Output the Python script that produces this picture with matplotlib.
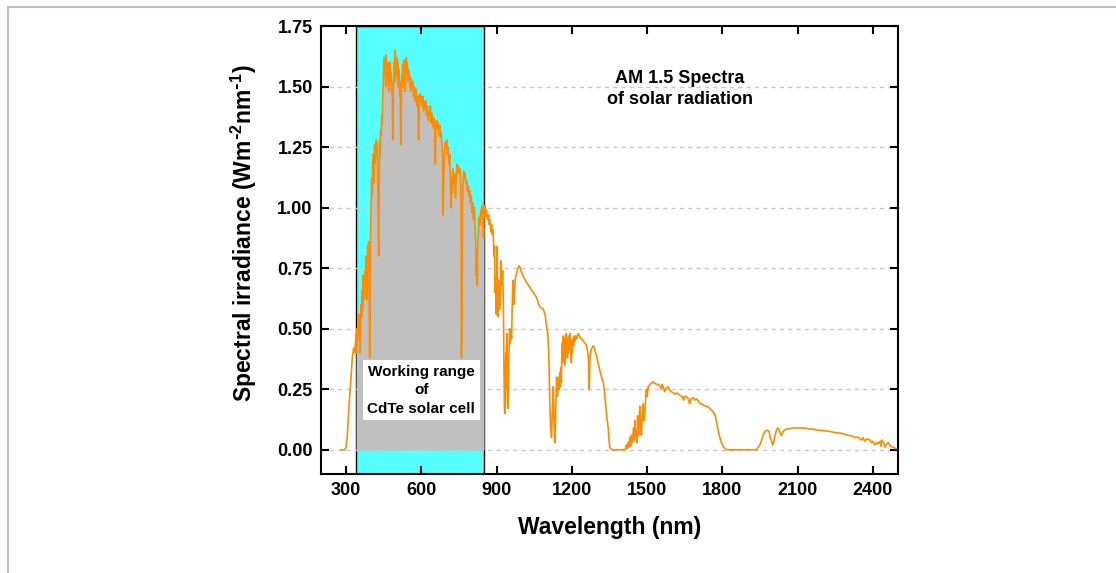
import matplotlib
matplotlib.use('Agg')
from matplotlib import pyplot as plt
from matplotlib.patches import Rectangle
import numpy as np

plt.rcParams['font.family'] = ['Liberation Sans', 'DejaVu Sans']
plt.rcParams['font.weight'] = 'bold'
plt.rcParams['mathtext.default'] = 'regular'

# AM1.5 spectrum (nm, W m-2 nm-1), in pieces
uv_wl = [280, 290, 295, 300, 305, 310, 315, 320, 325, 330, 335, 338]
uv_irr = [0, 0, 0.0, 0.01, 0.06, 0.15, 0.23, 0.30, 0.38, 0.42, 0.40, 0.45]

vis_wl = [340, 342, 344, 346, 348, 350, 352, 354, 356, 358, 360, 362, 364, 366, 368, 370, 372, 374, 376, 378,
          380, 382, 384, 386, 388, 390, 392, 394, 396, 398, 400, 402, 404, 406, 408, 410, 412, 414, 416, 418,
          420, 422, 424, 426, 428, 430, 432, 434, 436, 438, 440, 442, 444, 446, 448, 450, 452, 454, 456, 458,
          460, 462, 464, 466, 468, 470, 472, 474, 476, 478, 480, 482, 484, 486, 488, 490, 492, 494, 496, 498,
          500, 502, 504, 506, 508, 510, 512, 514, 516, 518, 520, 522, 524, 526, 528, 530, 532, 534, 536, 538,
          540, 542, 544, 546, 548, 550, 552, 554, 556, 558, 560, 563, 566, 569, 572, 575, 578, 581, 584, 587,
          589, 591, 594, 597, 600, 603, 606, 609, 612, 615, 618, 621, 624, 627, 630, 633, 636, 639, 642, 645,
          648, 651, 654, 656, 658, 661, 664, 667, 670, 673, 676, 679, 682, 685, 687, 689, 692, 695, 698, 701,
          704, 707, 710, 713, 716, 719, 721, 724, 727, 730, 733, 736, 739, 742, 745, 748, 751, 754, 757, 759,
          760, 762, 764, 766, 769, 772, 775, 778, 781, 784, 787, 790, 793, 796, 799, 802, 805, 808, 811, 814,
          817, 819, 821, 823, 825, 828, 831, 834, 837, 840, 843, 846, 848, 850]
vis_irr = [0.48, 0.40, 0.50, 0.45, 0.55, 0.48, 0.56, 0.50, 0.40, 0.52, 0.60, 0.55, 0.66, 0.58, 0.72, 0.62, 0.70, 0.64, 0.74, 0.68,
           0.80, 0.62, 0.72, 0.84, 0.78, 0.86, 0.70, 0.38, 0.62, 0.90, 1.02, 1.12, 1.05, 1.18, 1.22, 1.10, 1.20, 1.26, 1.18, 1.24,
           1.28, 1.22, 1.27, 1.15, 0.95, 0.80, 1.10, 1.28, 1.22, 1.32, 1.30, 1.38, 1.34, 1.45, 1.50, 1.58, 1.62, 1.55, 1.60, 1.50,
           1.63, 1.57, 1.52, 1.60, 1.56, 1.48, 1.59, 1.55, 1.60, 1.52, 1.56, 1.47, 1.52, 1.28, 1.45, 1.55, 1.60, 1.52, 1.65, 1.58,
           1.54, 1.62, 1.56, 1.60, 1.50, 1.57, 1.53, 1.46, 1.52, 1.26, 1.42, 1.55, 1.50, 1.59, 1.54, 1.61, 1.50, 1.56, 1.48, 1.58,
           1.62, 1.56, 1.60, 1.52, 1.57, 1.53, 1.56, 1.50, 1.54, 1.48, 1.53, 1.50, 1.52, 1.46, 1.50, 1.44, 1.49, 1.47, 1.42, 1.46,
           1.28, 1.40, 1.47, 1.44, 1.46, 1.42, 1.46, 1.40, 1.44, 1.41, 1.44, 1.38, 1.42, 1.36, 1.40, 1.38, 1.42, 1.35, 1.39, 1.37,
           1.33, 1.37, 1.30, 1.18, 1.32, 1.36, 1.33, 1.35, 1.30, 1.34, 1.29, 1.31, 1.26, 1.20, 0.97, 1.10, 1.22, 1.27, 1.25, 1.28,
           1.22, 1.25, 1.18, 1.22, 1.10, 1.00, 1.12, 1.06, 1.16, 1.10, 1.14, 1.04, 1.12, 1.18, 1.15, 1.17, 1.14, 1.16, 1.12, 0.90,
           0.38, 0.55, 0.95, 1.10, 1.15, 1.12, 1.14, 1.10, 1.11, 1.07, 1.09, 1.05, 1.07, 1.02, 1.05, 0.98, 1.02, 0.95, 1.00, 0.92,
           0.85, 0.72, 0.82, 0.68, 0.85, 0.92, 0.96, 0.93, 0.99, 0.97, 1.01, 0.93, 0.88, 0.98]

nir_wl = [853, 856, 859, 862, 865, 868, 871, 874, 877, 880, 883, 886, 889, 892, 894, 897, 899, 902, 904, 906,
          909, 912, 915, 918, 921, 924, 927, 929, 931, 933, 935, 937, 939, 941, 943, 946, 948, 950, 952, 955,
          957, 960, 962, 964, 966, 968, 971, 974, 977, 980, 985, 990, 995, 1000, 1010, 1020, 1033, 1046, 1059, 1068,
          1073, 1086, 1093, 1099, 1104, 1108, 1112, 1115, 1119, 1122, 1126, 1129, 1133, 1136, 1139, 1143, 1148, 1150, 1152, 1154,
          1156, 1158, 1160, 1162, 1164, 1166, 1168, 1170, 1172, 1174, 1176, 1178, 1180, 1182, 1184, 1186, 1188, 1190, 1192, 1194,
          1196, 1198, 1200, 1202, 1204, 1207, 1210, 1213, 1216, 1220, 1225, 1230, 1235, 1239, 1245, 1252, 1259, 1263, 1266, 1269,
          1272, 1276, 1280, 1285, 1290, 1294, 1298, 1304, 1311, 1318, 1325, 1330, 1336, 1341, 1345, 1348, 1351]
nir_irr = [1.01, 0.96, 0.99, 0.97, 0.95, 0.97, 0.93, 0.95, 0.90, 0.93, 0.89, 0.91, 0.80, 0.84, 0.65, 0.72, 0.56, 0.84, 0.60, 0.55,
           0.70, 0.58, 0.66, 0.78, 0.68, 0.74, 0.60, 0.40, 0.18, 0.15, 0.30, 0.40, 0.25, 0.48, 0.20, 0.17, 0.35, 0.42, 0.50, 0.44,
           0.48, 0.46, 0.58, 0.66, 0.70, 0.60, 0.64, 0.70, 0.72, 0.73, 0.75, 0.76, 0.75, 0.73, 0.71, 0.69, 0.67, 0.65, 0.63, 0.60,
           0.59, 0.58, 0.56, 0.51, 0.48, 0.40, 0.20, 0.10, 0.05, 0.15, 0.26, 0.12, 0.03, 0.18, 0.30, 0.22, 0.30, 0.25, 0.32, 0.26,
           0.34, 0.28, 0.40, 0.44, 0.36, 0.47, 0.40, 0.45, 0.35, 0.46, 0.40, 0.48, 0.42, 0.38, 0.46, 0.40, 0.47, 0.43, 0.48, 0.41,
           0.45, 0.36, 0.44, 0.40, 0.46, 0.43, 0.47, 0.45, 0.47, 0.46, 0.48, 0.47, 0.46, 0.46, 0.45, 0.44, 0.43, 0.40, 0.38, 0.25,
           0.38, 0.41, 0.42, 0.43, 0.42, 0.40, 0.39, 0.36, 0.33, 0.30, 0.28, 0.24, 0.17, 0.12, 0.09, 0.04, 0.01]

swir_wl = [1360, 1380, 1400, 1411, 1415, 1417, 1421, 1424, 1426, 1428, 1431, 1434, 1437, 1441, 1444, 1446, 1449, 1451, 1454, 1457,
           1460, 1462, 1466, 1468, 1471, 1474, 1477, 1481, 1484, 1488, 1491, 1494, 1497, 1500, 1504, 1511, 1517, 1524, 1530, 1537,
           1544, 1550, 1557, 1560, 1564, 1570, 1577, 1584, 1590, 1597, 1604, 1610, 1617, 1624, 1630, 1640, 1645, 1650, 1657, 1664,
           1670, 1675, 1684, 1690, 1697, 1705, 1712, 1718, 1724, 1735, 1745, 1750, 1760, 1770, 1776, 1783, 1790, 1796, 1805, 1816,
           1900, 1936, 1942, 1949, 1955, 1962, 1969, 1975, 1980, 1986, 1990, 1995, 2000, 2004, 2010, 2015, 2020, 2025, 2029, 2035,
           2040, 2045, 2055, 2069, 2082, 2100, 2122, 2140, 2148, 2160, 2175, 2190, 2201, 2220, 2240, 2255, 2270, 2285, 2300, 2310,
           2320, 2330, 2340, 2348, 2355, 2360, 2368, 2375, 2388, 2395, 2400, 2408, 2415, 2420, 2428, 2432, 2435, 2442, 2448, 2455,
           2461, 2470, 2481, 2490, 2500]
swir_irr = [0.0, 0.0, 0.0, 0.0, 0.01, 0.02, 0.005, 0.03, 0.01, 0.02, 0.05, 0.015, 0.06, 0.03, 0.07, 0.09, 0.04, 0.12, 0.05, 0.08,
            0.03, 0.14, 0.06, 0.12, 0.18, 0.10, 0.06, 0.15, 0.19, 0.12, 0.16, 0.21, 0.25, 0.22, 0.26, 0.27, 0.275, 0.28, 0.275, 0.27,
            0.27, 0.265, 0.25, 0.27, 0.26, 0.24, 0.255, 0.26, 0.245, 0.24, 0.235, 0.23, 0.235, 0.23, 0.225, 0.22, 0.205, 0.22, 0.22, 0.21,
            0.19, 0.21, 0.215, 0.205, 0.21, 0.20, 0.19, 0.19, 0.185, 0.18, 0.175, 0.17, 0.16, 0.145, 0.12, 0.08, 0.05, 0.03, 0.01, 0.0,
            0.0, 0.0, 0.01, 0.02, 0.035, 0.06, 0.075, 0.08, 0.08, 0.075, 0.05, 0.04, 0.02, 0.03, 0.06, 0.08, 0.09, 0.085, 0.07, 0.06,
            0.07, 0.08, 0.085, 0.088, 0.09, 0.09, 0.09, 0.088, 0.085, 0.085, 0.082, 0.08, 0.079, 0.077, 0.073, 0.07, 0.069, 0.065, 0.06, 0.058,
            0.055, 0.05, 0.052, 0.045, 0.04, 0.05, 0.035, 0.045, 0.04, 0.03, 0.035, 0.02, 0.03, 0.025, 0.035, 0.015, 0.04, 0.03, 0.01, 0.025,
            0.03, 0.015, 0.01, 0.005, 0.003]

band = (340, 850)
xticks = [300, 600, 900, 1200, 1500, 1800, 2100, 2400]
yticks = [0.00, 0.25, 0.50, 0.75, 1.00, 1.25, 1.50, 1.75]

wl = np.array(uv_wl + vis_wl + nir_wl + swir_wl, dtype=float)
irr = np.array(uv_irr + vis_irr + nir_irr + swir_irr)

fig = plt.figure(figsize=(11.16, 5.73), dpi=100)
fig.patches.append(Rectangle((0.0072, -0.05), 1.0, 1.0378, transform=fig.transFigure,
                             fill=False, edgecolor='#c0c0c0', lw=1.5))
ax = fig.add_axes([0.2876, 0.1728, 0.5171, 0.7818])

ax.axvspan(band[0], band[1], facecolor='#55ffff', edgecolor='black', lw=1.0, zorder=0)
for y in yticks[:-1]:
    ax.axhline(y, color='#c8c8c8', lw=1.0, ls=(0, (3, 3)), zorder=1)

# gray area under the curve inside the CdTe working range
m = (wl >= band[0]) & (wl <= band[1])
ax.fill_between(wl[m], 0, irr[m], color='#c0c0c0', lw=0, zorder=2)
ax.plot(wl, irr, color='#ff8c00', lw=1.2, zorder=3)

ax.text(600, 0.245, 'Working range\nof\nCdTe solar cell', ha='center', va='center',
        fontsize=11, fontweight='bold', zorder=4, linespacing=1.4,
        bbox=dict(boxstyle='square,pad=0.3', facecolor='white', edgecolor='none'))
ax.text(1630, 1.49, 'AM 1.5 Spectra\nof solar radiation', ha='center', va='center',
        fontsize=13, fontweight='bold', linespacing=1.35)

ax.set_xlim(200, 2500)
ax.set_ylim(-0.1, 1.75)
ax.set_xticks(xticks)
ax.set_yticks(yticks)
ax.set_yticklabels(['%.2f' % v for v in yticks])
ax.tick_params(direction='in', length=6, width=1.5, top=True, right=True, labelsize=13, pad=6)
for s in ax.spines.values():
    s.set_linewidth(1.5)
    s.set_zorder(5)

ax.set_xlabel('Wavelength (nm)', fontsize=16.5, fontweight='bold', labelpad=12)
ax.set_ylabel(r'Spectral irradiance (Wm$^{\text{-}2}$nm$^{\text{-}1}$)', fontsize=16.5, fontweight='bold')
ax.yaxis.set_label_coords(-0.107, 0.538)

fig.savefig('out.png', dpi=100)
